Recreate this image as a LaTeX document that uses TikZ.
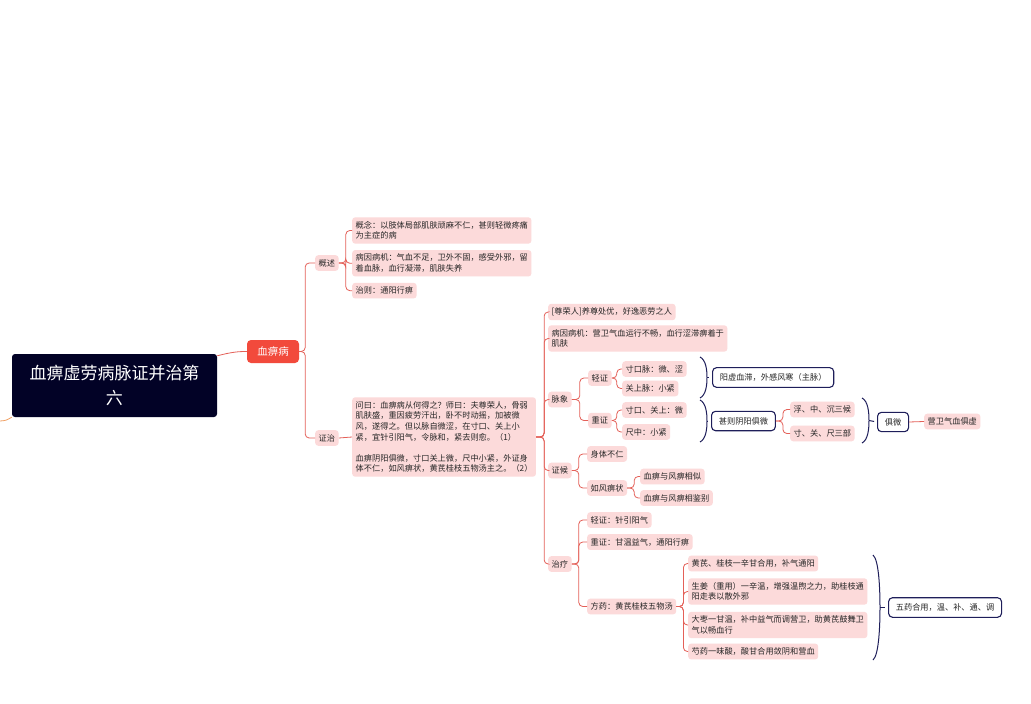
\documentclass[tikz,border=0pt]{standalone}
\usepackage{fontspec}
\setmainfont{Noto Sans CJK SC}
\usetikzlibrary{positioning}
\definecolor{rootblue}{RGB}{2,2,38}
\definecolor{topicred}{RGB}{242,74,60}
\definecolor{linkred}{RGB}{228,96,88}
\definecolor{leafpink}{RGB}{252,218,218}
\definecolor{sumblue}{RGB}{30,30,90}
\definecolor{leftorange}{RGB}{240,160,100}

\begin{document}
\begin{tikzpicture}[x=1pt,y=-1pt,
    root node/.style={rectangle,rounded corners=3pt,fill=rootblue,text=white,font=\fontsize{17}{25}\selectfont,minimum width=205pt,minimum height=63pt,align=center},
    topic node/.style={rectangle,rounded corners=4pt,fill=topicred,text=white,font=\fontsize{10.5}{12}\selectfont,minimum width=52pt,minimum height=23pt},
    leaf node/.style={rectangle,rounded corners=3pt,fill=leafpink,text=black!85,font=\fontsize{8.2}{10.6}\selectfont,inner xsep=3.5pt,inner ysep=4pt,anchor=west,align=left},
    sum node/.style={rectangle,rounded corners=4pt,draw=sumblue,line width=1.1pt,fill=white,text=black!85,font=\fontsize{8.2}{10.6}\selectfont,inner xsep=7.3pt,inner ysep=5.9pt,anchor=west},
    link/.style={draw=linkred,line width=0.8pt,rounded corners=4pt},
    branch/.style={to path={-- ++(#1,0) |- (\tikztotarget)}},
    branch/.default=7,
    brace line/.style={draw=sumblue,line width=1pt}]
    \fill[white] (0,0) rectangle (1031,704);
    \useasboundingbox (0,0) rectangle (1031,704);

    % root and main topic
    \node[root node] (root) at (114.5,385.5) {血痹虚劳病脉证并治第\\六};
    \node[topic node] (xbb) at (273,351.5) {血痹病};
    \coordinate (lft) at (0,421);

    \node[leaf node] (gs) at (315,263) {概述};
    \node[leaf node] (zz) at (315,438) {证治};

    % 概述
    \node[leaf node] (gn) at (352,230.5) {概念：以肢体局部肌肤顽麻不仁，甚则轻微疼痛\\为主症的病};
    \node[leaf node] (byA) [below=6pt of gn.south west, anchor=north west] {病因病机：气血不足，卫外不固，感受外邪，留\\着血脉，血行凝滞，肌肤失养};
    \node[leaf node] (zc) [below=6pt of byA.south west, anchor=north west] {治则：通阳行痹};

    % 证治
    \node[leaf node] (big) at (352,437) {问曰：血痹病从何得之？师曰：夫尊荣人，骨弱\\肌肤盛，重因疲劳汗出，卧不时动摇，加被微\\风，遂得之。但以脉自微涩，在寸口、关上小\\紧，宜针引阳气，令脉和，紧去则愈。（1）\\[10.6pt]血痹阴阳俱微，寸口关上微，尺中小紧，外证身\\体不仁，如风痹状，黄芪桂枝五物汤主之。（2）};

    \node[leaf node] (zr) at (548,312) {[尊荣人]养尊处优，好逸恶劳之人};
    \node[leaf node] (byB) at (548,338.5) {病因病机：营卫气血运行不畅，血行涩滞痹着于\\肌肤};
    \node[leaf node] (mx) at (548,399.5) {脉象};
    \node[leaf node] (zh) at (548,470.5) {证候};
    \node[leaf node] (zl) at (548,564) {治疗};

    % 脉象
    \node[leaf node] (qz) at (588,378) {轻证};
    \node[leaf node] (cz) at (588,420.5) {重证};
    \node[leaf node] (qa) at (622,369) {寸口脉：微、涩};
    \node[leaf node] (qb) at (622,388.5) {关上脉：小紧};
    \node[leaf node] (ca) at (622,410) {寸口、关上：微};
    \node[leaf node] (cb) at (622,432) {尺中：小紧};

    \coordinate (b1t) at (700,357);
    \coordinate (b1m) at (707,377.5);
    \coordinate (b1b) at (700,398);
    \node[sum node] (yx) at (712,377.5) {阳虚血滞，外感风寒（主脉）};

    \coordinate (b2t) at (700,400);
    \coordinate (b2m) at (707,421);
    \coordinate (b2b) at (700,442);
    \node[sum node] (sz) at (711,421) {甚则阴阳俱微};
    \node[leaf node] (fz) at (790,409.5) {浮、中、沉三候};
    \node[leaf node] (cg) at (790,433.5) {寸、关、尺三部};

    \coordinate (b3t) at (862,398);
    \coordinate (b3m) at (869,420.5);
    \coordinate (b3b) at (862,443);
    \node[sum node] (jw) at (877,422) {俱微};
    \node[leaf node] (yw) at (924,421.5) {营卫气血俱虚};

    % 证候
    \node[leaf node] (st) at (587,454) {身体不仁};
    \node[leaf node] (rf) at (587,488) {如风痹状};
    \node[leaf node] (xs) at (640,476.5) {血痹与风痹相似};
    \node[leaf node] (xj) at (640,498) {血痹与风痹相鉴别};

    % 治疗
    \node[leaf node] (zq) at (587,520) {轻证：针引阳气};
    \node[leaf node] (zc2) at (587,542) {重证：甘温益气，通阳行痹};
    \node[leaf node] (fy) at (587,606.5) {方药：黄芪桂枝五物汤};
    \node[leaf node] (fa) at (688,563.5) {黄芪、桂枝一辛甘合用，补气通阳};
    \node[leaf node] (fb) at (688,591.5) {生姜（重用）一辛温，增强温煦之力，助桂枝通\\阳走表以散外邪};
    \node[leaf node] (fc) at (688,625) {大枣一甘温，补中益气而调营卫，助黄芪鼓舞卫\\气以畅血行};
    \node[leaf node] (fd) at (688,651.5) {芍药一味酸，酸甘合用敛阴和营血};

    \coordinate (b4t) at (873,555);
    \coordinate (b4m) at (880,607.5);
    \coordinate (b4b) at (873,660);
    \node[sum node] (wy) at (888,607.5) {五药合用，温、补、通、调};

    % connectors
    \draw[draw=leftorange,line width=0.8pt] (lft) .. controls (6,420.5) .. (root.south west);
    \draw[link] ([yshift=-2pt]root.north east) .. controls (232,352) and (238,351.5) .. (xbb.west);

    \path[link]
    (xbb.east) edge[branch=6] (gs.west)
    (xbb.east) edge[branch=6] (zz.west)
    (gs.east) edge[branch] (gn.west)
    (gs.east) edge[branch] (byA.west)
    (gs.east) edge[branch] (zc.west)
    (zz.east) edge (big.west)
    (big.east) edge[branch=8] (zr.west)
    (big.east) edge[branch=8] (byB.west)
    (big.east) edge[branch=8] (mx.west)
    (big.east) edge[branch=8] (zh.west)
    (big.east) edge[branch=8] (zl.west)
    (mx.east) edge[branch=8] (qz.west)
    (mx.east) edge[branch=8] (cz.west)
    (qz.east) edge[branch=5] (qa.west)
    (qz.east) edge[branch=5] (qb.west)
    (cz.east) edge[branch=5] (ca.west)
    (cz.east) edge[branch=5] (cb.west)
    (sz.east) edge[branch] (fz.west)
    (sz.east) edge[branch] (cg.west)
    (jw.east) edge (yw.west)
    (zh.east) edge[branch=7] (st.west)
    (zh.east) edge[branch=7] (rf.west)
    (rf.east) edge[branch] (xs.west)
    (rf.east) edge[branch] (xj.west)
    (zl.east) edge[branch=7] (zq.west)
    (zl.east) edge[branch=7] (zc2.west)
    (zl.east) edge[branch=7] (fy.west)
    (fy.east) edge[branch] (fa.west)
    (fy.east) edge[branch] (fb.west)
    (fy.east) edge[branch] (fc.west)
    (fy.east) edge[branch] (fd.west)
    ;

    % braces
    \draw[brace line] (b1t) .. controls (706,360) and (707,370) .. (b1m) .. controls (707,385) and (706,395) .. (b1b);
    \draw[brace line] (b2t) .. controls (706,403) and (707,413) .. (b2m) .. controls (707,429) and (706,439) .. (b2b);
    \draw[brace line] (b3t) .. controls (868,401) and (869,412) .. (b3m) .. controls (869,429) and (868,440) .. (b3b);
    \draw[brace line] (b4t) .. controls (879,560) and (880,590) .. (b4m) .. controls (880,625) and (879,655) .. (b4b);
    \draw[brace line, shorten >=3pt] (b1m) -- (yx.west);
    \draw[brace line, shorten >=3pt] (b2m) -- (sz.west);
    \draw[brace line, shorten >=3pt] (b3m) -- (jw.west);
    \draw[brace line, shorten >=3pt] (b4m) -- (wy.west);
\end{tikzpicture}
\end{document}
